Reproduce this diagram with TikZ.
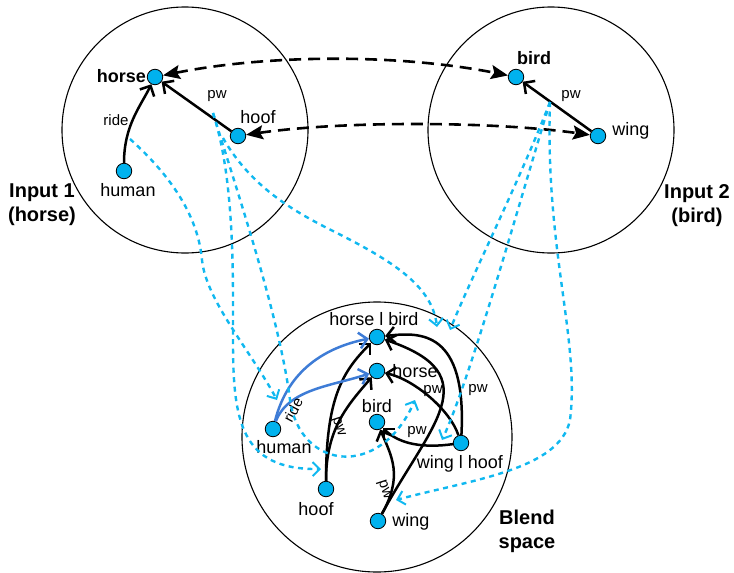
\documentclass[tikz,border=0pt]{standalone}
\usepackage{fontspec}
\setmainfont{Liberation Sans}
\usetikzlibrary{arrows.meta}

\definecolor{dotcyan}{RGB}{0,178,238}
\definecolor{mapcyan}{RGB}{16,184,240}
\definecolor{relblue}{RGB}{62,124,214}

\tikzset{
  space/.style={draw, circle, inner sep=0pt, line width=1.1pt},
  elem/.style={draw, circle, fill=dotcyan, minimum size=15.5pt, inner sep=0pt, line width=0.8pt},
  lbl/.style={font=\fontsize{18}{20}\selectfont, inner sep=0pt},
  blbl/.style={font=\fontsize{18}{20}\selectfont\bfseries, inner sep=0pt},
  small/.style={font=\fontsize{15}{17}\selectfont, inner sep=0pt},
  title/.style={font=\fontsize{20}{24}\selectfont\bfseries, align=center, inner sep=0pt},
  rel/.style={line width=2.5pt, -{Straight Barb[length=8pt,width=16pt]}},
  relb/.style={rel, draw=relblue},
  corr/.style={line width=2.6pt, dash pattern=on 12pt off 7pt,
    {Stealth[length=17pt,width=14pt,inset=3pt]}-{Stealth[length=17pt,width=14pt,inset=3pt]}},
  proj/.style={draw=mapcyan, line width=2.4pt, dash pattern=on 5pt off 4.5pt,
    -{Straight Barb[length=7pt,width=14pt,line width=2pt]}},
}

\begin{document}
\begin{tikzpicture}[x=1pt,y=-1pt]
\useasboundingbox (0,0) rectangle (734,573);

% the three mental spaces
\node[space, minimum size=246pt] (input1) at (185,130) {};
\node[space, minimum size=246pt] (input2) at (551,130) {};
\node[space, minimum size=270pt] (blend)  at (377,437) {};

\node[title] (t1) at (42,205) {Input 1\\(horse)};
\node[title] (t2) at (697,206) {Input 2\\(bird)};
\node[title] (t3) at (527,531) {Blend\\space};

% input 1 elements
\node[elem] (h1horse) at (155,77) {};
\node[elem] (h1hoof)  at (238,136) {};
\node[elem] (h1human) at (124,171) {};
\node[blbl, anchor=east] (l1horse) at (146,76) {horse};
\node[lbl] (l1hoof)  at (258,117) {hoof};
\node[lbl] (l1human) at (128,190) {human};

% input 2 elements
\node[elem] (b2bird) at (516,77) {};
\node[elem] (b2wing) at (598,136) {};
\node[blbl] (l2bird) at (534,58) {bird};
\node[lbl]  (l2wing) at (631,131) {wing};

% blend elements
\node[elem] (bhb)    at (377,337) {};
\node[elem] (bhorse) at (377,371) {};
\node[elem] (bbird)  at (377,422) {};
\node[elem] (bhuman) at (273,429) {};
\node[elem] (bwh)    at (461,443) {};
\node[elem] (bhoof)  at (326,489) {};
\node[elem] (bwing)  at (378,521) {};
\node[lbl] (lbhb)    at (374,319) {horse l bird};
\node[lbl] (lbhorse) at (415,371) {horse};
\node[lbl] (lbbird)  at (377,406) {bird};
\node[lbl] (lbhuman) at (284,447) {human};
\node[lbl] (lbwh)    at (460,464) {wing l hoof};
\node[lbl] (lbhoof)  at (316,509) {hoof};
\node[lbl] (lbwing)  at (411,522) {wing};

% relations inside input 1
\draw[rel] (h1human) .. controls +(0,-45) and +(-15,30) .. (h1horse);
\draw[rel] (h1hoof) -- (h1horse);
\node[small] (ride1) at (116,120) {ride};
\node[small] (pw1) at (217,96) {pw};

% relation inside input 2
\draw[rel] (b2wing) -- (b2bird);
\node[small] (pw2) at (571,96) {pw};

% cross-space counterparts
\draw[corr] (h1horse) .. controls (270,54) and (400,54) .. (b2bird);
\draw[corr] (h1hoof) .. controls (340,121) and (490,121) .. (b2wing);

% relations inside the blend
\draw[rel] (bhoof) .. controls +(0,-90) and +(-35,35) .. (bhb);
\draw[rel] (bhoof) .. controls +(0,-60) and +(-30,35) .. (bhorse);
\draw[relb] (bhuman) .. controls +(15,-60) and +(-50,10) .. (bhb);
\draw[relb] (bhuman) .. controls +(15,-40) and +(-45,15) .. (bhorse);
\draw[rel] (bwh) .. controls (467,330) and (420,332) .. (bhb);
\draw[rel] (bwing) .. controls (430,425) and (490,375) .. (bhb);
\draw[rel] (bwing) .. controls +(25,-45) and +(15,35) .. (bbird);
\draw[rel] (bwh) .. controls (450,410) and (415,380) .. (bhorse);
\draw[rel] (bwh) .. controls (425,448) and (400,445) .. (bbird);

\node[small, rotate=62] (rideb) at (293,410) {ride};
\node[small, rotate=-72] (pwb1) at (338,427) {pw};
\node[small, rotate=-72] (pwb2) at (384,490) {pw};
\node[small] (pwb3) at (433,391) {pw};
\node[small] (pwb4) at (478,390) {pw};
\node[small] (pwb5) at (417,432) {pw};

% projections from the inputs into the blend
\coordinate (s1) at (130,139);
\coordinate (s2) at (213,113);
\coordinate (s3) at (223,138);
\coordinate (s4) at (550,102);
\coordinate (e1) at (277,400);
\coordinate (e2) at (321,469);
\coordinate (e3) at (415,400);
\coordinate (e4) at (437,327);
\coordinate (e5) at (450,330);
\coordinate (e6) at (442,440);
\coordinate (e7) at (396,500);

\draw[proj] (s1) .. controls (170,175) and (198,215) .. (202,260)
                 .. controls (206,300) and (250,350) .. (e1);
\draw[proj] (s2) .. controls (235,180) and (233,280) .. (233,340)
                 .. controls (233,420) and (240,470) .. (e2);
\draw[proj] (s2) .. controls (240,200) and (280,320) .. (290,400)
                 .. controls (300,470) and (380,480) .. (e3);
\draw[proj] (s3) .. controls (250,185) and (290,210) .. (337,233)
                 .. controls (390,260) and (432,285) .. (e4);
\draw[proj] (s4) .. controls (520,180) and (470,280) .. (e5);
\draw[proj] (s4) .. controls (520,200) and (470,380) .. (e6);
\draw[proj] (s4) .. controls (545,250) and (580,340) .. (570,420)
                 .. controls (560,470) and (470,480) .. (e7);
\end{tikzpicture}
\end{document}
